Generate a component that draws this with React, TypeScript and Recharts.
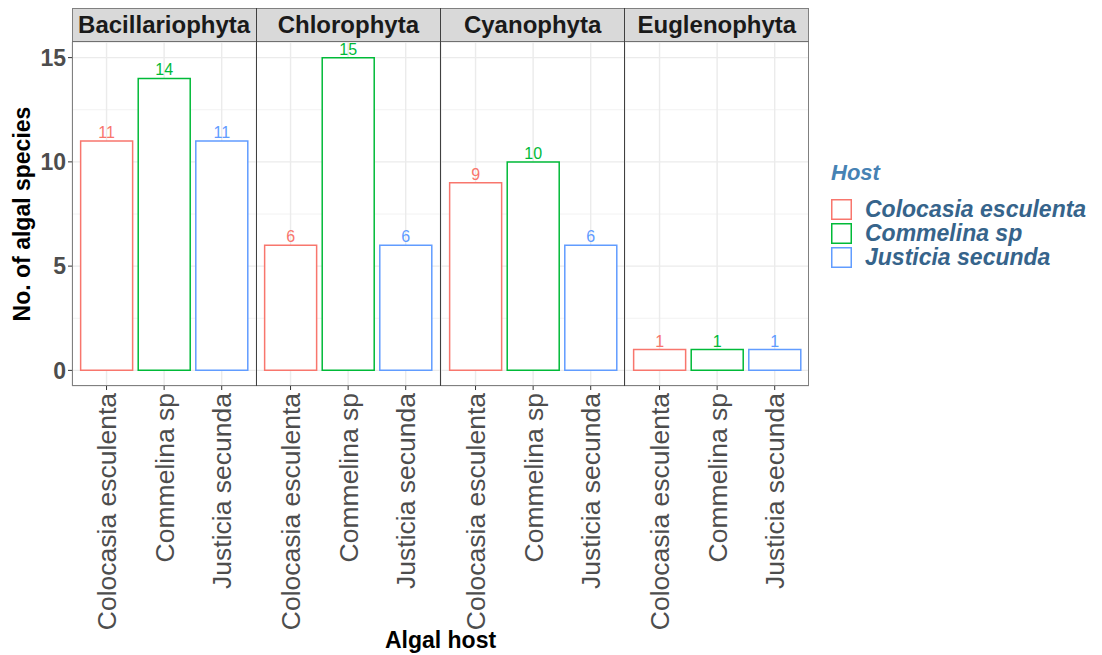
import React from 'react';
import { BarChart, Bar, XAxis, YAxis, CartesianGrid, Cell, LabelList } from 'recharts';

const hosts = ['Colocasia esculenta', 'Commelina sp', 'Justicia secunda'];
const phyla = ['Bacillariophyta', 'Chlorophyta', 'Cyanophyta', 'Euglenophyta'];
const colocasiaCounts = [11, 6, 9, 1];
const commelinaCounts = [14, 15, 10, 1];
const justiciaCounts = [11, 6, 6, 1];
const yTicks = [0, 5, 10, 15];
const minorTicks = [2.5, 7.5, 12.5];

const hostColors = ['#F8766D', '#00BA38', '#619CFF'];
const yDomain: [number, number] = [-0.75, 15.75];

const PLOT_LEFT = 72;
const PLOT_TOP = 42;
const PLOT_H = 344;
const PANEL_W = 184.25;
const AXIS_W = 72;
const FONT = '"Liberation Sans", Arial, Helvetica, sans-serif';

const HostTick = ({ x, y, payload }: any) => (
  <g transform={`translate(${x},${y})`}>
    <text x={-1} y={0} transform="rotate(-90)" textAnchor="end" dy="0.36em" fontSize={26.5} fill="#4D4D4D">
      {payload.value}
    </text>
  </g>
);

const renderCountLabel = (props: any) => {
  const { x, y, width, value, index } = props;
  return (
    <text x={x + width / 2} y={y - 3} textAnchor="middle" fontSize={16} fill={hostColors[index]}>
      {value}
    </text>
  );
};

const Panel = ({ idx }: { idx: number }) => {
  const data = hosts.map((host, i) => ({
    host,
    count: [colocasiaCounts, commelinaCounts, justiciaCounts][i][idx],
  }));
  const showY = idx === 0;
  const yW = showY ? AXIS_W : 0;
  return (
    <div style={{ position: 'absolute', left: PLOT_LEFT + idx * PANEL_W - yW, top: PLOT_TOP }}>
      <BarChart
        width={PANEL_W + yW}
        height={PLOT_H + 260}
        data={data}
        margin={{ top: 0, right: 0, bottom: 0, left: 0 }}
        barCategoryGap="5%"
      >
        <CartesianGrid yAxisId="minor" stroke="#F2F2F2" strokeWidth={1} vertical={false} />
        <CartesianGrid stroke="#EBEBEB" strokeWidth={1.4} />
        <XAxis
          dataKey="host"
          padding={{ left: 5.75, right: 5.75 }}
          height={260}
          interval={0}
          tick={<HostTick />}
          tickSize={4}
          tickLine={{ stroke: '#333333' }}
          axisLine={false}
        />
        <YAxis yAxisId="minor" hide domain={yDomain} ticks={minorTicks} allowDataOverflow />
        <YAxis
          hide={!showY}
          width={AXIS_W}
          domain={yDomain}
          ticks={yTicks}
          allowDataOverflow
          axisLine={false}
          tickSize={4}
          tickLine={{ stroke: '#333333' }}
          tick={{ fill: '#4D4D4D', fontSize: 23, fontWeight: 'bold' }}
        />
        <Bar dataKey="count" fill="#FFFFFF" strokeWidth={1.5} isAnimationActive={false}>
          {data.map((d, i) => (
            <Cell key={d.host} stroke={hostColors[i]} fill="#FFFFFF" />
          ))}
          <LabelList dataKey="count" content={renderCountLabel} />
        </Bar>
      </BarChart>
    </div>
  );
};

export default function App() {
  const plotW = PANEL_W * phyla.length;
  return (
    <div
      style={{
        position: 'absolute',
        left: 0,
        top: 0,
        width: 1102,
        height: 655,
        background: '#FFFFFF',
        fontFamily: FONT,
        overflow: 'hidden',
      }}
    >
      {phyla.map((p, i) => (
        <Panel key={p} idx={i} />
      ))}

      {/* strips */}
      {phyla.map((p, i) => (
        <div
          key={p}
          style={{
            position: 'absolute',
            left: PLOT_LEFT + i * PANEL_W,
            top: 8,
            width: PANEL_W,
            height: 34,
            background: '#D9D9D9',
            color: '#1A1A1A',
            fontWeight: 'bold',
            fontSize: 24,
            lineHeight: '34px',
            textAlign: 'center',
          }}
        >
          {p}
        </div>
      ))}

      {/* panel borders */}
      <div
        style={{
          position: 'absolute',
          left: PLOT_LEFT,
          top: 8,
          width: plotW,
          height: PLOT_TOP + PLOT_H - 8,
          border: '1px solid #808080',
          boxSizing: 'border-box',
        }}
      />
      <div
        style={{
          position: 'absolute',
          left: PLOT_LEFT,
          top: PLOT_TOP - 1,
          width: plotW,
          height: 1,
          background: '#707070',
        }}
      />
      {[1, 2, 3].map((i) => (
        <div
          key={i}
          style={{
            position: 'absolute',
            left: PLOT_LEFT + i * PANEL_W - 0.5,
            top: 8,
            width: 1,
            height: PLOT_TOP + PLOT_H - 8,
            background: '#404040',
          }}
        />
      ))}

      {/* axis titles */}
      <div
        style={{
          position: 'absolute',
          left: 22,
          top: PLOT_TOP + PLOT_H / 2,
          transform: 'translate(-50%, -50%) rotate(-90deg)',
          whiteSpace: 'nowrap',
          fontWeight: 'bold',
          fontSize: 23,
          color: '#000000',
        }}
      >
        No. of algal species
      </div>
      <div
        style={{
          position: 'absolute',
          left: PLOT_LEFT + plotW / 2,
          top: 629,
          transform: 'translateX(-50%)',
          whiteSpace: 'nowrap',
          fontWeight: 'bold',
          fontSize: 23,
          lineHeight: '23px',
          color: '#000000',
        }}
      >
        Algal host
      </div>

      {/* legend */}
      <div style={{ position: 'absolute', left: 831, top: 162 }}>
        <div
          style={{
            fontWeight: 'bold',
            fontStyle: 'italic',
            fontSize: 22,
            lineHeight: '22px',
            color: '#4682B4',
            marginBottom: 13,
          }}
        >
          Host
        </div>
        {hosts.map((h, i) => (
          <div key={h} style={{ display: 'flex', alignItems: 'center', height: 24 }}>
            <svg width={21} height={21} style={{ display: 'block' }}>
              <rect x={0.75} y={0.75} width={19.5} height={19.5} fill="#FFFFFF" stroke={hostColors[i]} strokeWidth={1.5} />
            </svg>
            <span
              style={{
                marginLeft: 13,
                fontWeight: 'bold',
                fontStyle: 'italic',
                fontSize: 23,
                lineHeight: '24px',
                height: 24,
                color: '#36648B',
                whiteSpace: 'nowrap',
              }}
            >
              {h}
            </span>
          </div>
        ))}
      </div>
    </div>
  );
}
